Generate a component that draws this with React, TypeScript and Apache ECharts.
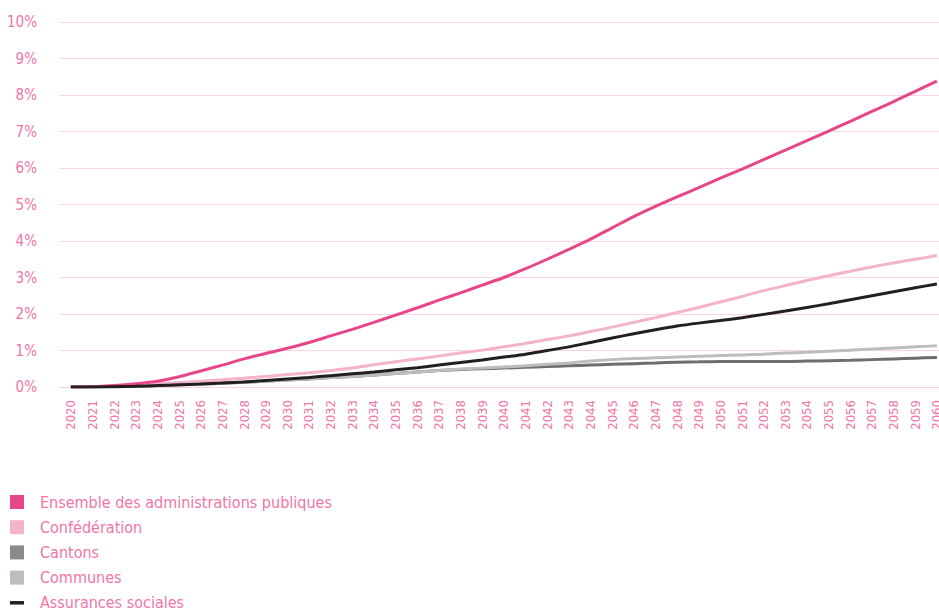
import React, { useEffect, useRef } from "react";
import * as echarts from "echarts";

const years: string[] = [];
for (let y = 2020; y <= 2060; y++) years.push(String(y));

const ensemble = [0, 0.01, 0.04, 0.09, 0.16, 0.28, 0.44, 0.6, 0.77, 0.92, 1.06, 1.22, 1.4, 1.58, 1.77, 1.97, 2.17, 2.38, 2.58, 2.79, 3.0, 3.24, 3.5, 3.77, 4.05, 4.36, 4.67, 4.95, 5.21, 5.46, 5.72, 5.97, 6.23, 6.49, 6.75, 7.01, 7.28, 7.55, 7.82, 8.1, 8.38];
const confederation = [0, 0.01, 0.03, 0.06, 0.09, 0.12, 0.16, 0.2, 0.24, 0.29, 0.34, 0.39, 0.45, 0.52, 0.61, 0.69, 0.77, 0.85, 0.93, 1.01, 1.1, 1.19, 1.3, 1.4, 1.52, 1.64, 1.77, 1.9, 2.04, 2.18, 2.33, 2.48, 2.64, 2.78, 2.92, 3.05, 3.17, 3.29, 3.4, 3.5, 3.6];
const cantons = [0, 0, 0.01, 0.02, 0.04, 0.06, 0.08, 0.1, 0.13, 0.16, 0.19, 0.22, 0.26, 0.29, 0.33, 0.37, 0.41, 0.45, 0.48, 0.5, 0.52, 0.54, 0.56, 0.58, 0.6, 0.62, 0.64, 0.66, 0.68, 0.69, 0.7, 0.7, 0.7, 0.7, 0.71, 0.72, 0.73, 0.75, 0.77, 0.79, 0.81];
const communes = [0, 0, 0.01, 0.02, 0.04, 0.06, 0.08, 0.1, 0.13, 0.16, 0.19, 0.22, 0.26, 0.29, 0.33, 0.37, 0.41, 0.45, 0.49, 0.52, 0.55, 0.58, 0.62, 0.66, 0.71, 0.75, 0.78, 0.8, 0.82, 0.84, 0.86, 0.88, 0.9, 0.93, 0.95, 0.98, 1.01, 1.04, 1.07, 1.1, 1.13];
const assurances = [0, 0, 0.01, 0.02, 0.04, 0.06, 0.08, 0.11, 0.14, 0.18, 0.22, 0.26, 0.31, 0.36, 0.41, 0.47, 0.53, 0.6, 0.67, 0.74, 0.82, 0.9, 1.0, 1.1, 1.22, 1.34, 1.46, 1.57, 1.67, 1.75, 1.82, 1.9, 1.99, 2.08, 2.18, 2.28, 2.39, 2.5, 2.61, 2.72, 2.82];

const names = [
  "Ensemble des administrations publiques",
  "Confédération",
  "Cantons",
  "Communes",
  "Assurances sociales",
];
const lineColors = ["#e8468a", "#f5b3cb", "#6d6e71", "#bcbdc0", "#231f20"];
const legendColors = ["#e8468a", "#f5b3cb", "#8a8b8f", "#bcbdc0", "#231f20"];

const FONT = "'DejaVu Sans Condensed', sans-serif";
const PINK_TEXT = "#f075a8";

export default function App() {
  const ref = useRef<HTMLDivElement>(null);
  useEffect(() => {
    if (!ref.current) return;
    const chart = echarts.init(ref.current, undefined, { renderer: "svg" });
    const mk = (i: number, data: number[], z: number) => ({
      name: names[i],
      type: "line",
      data,
      smooth: 0.3,
      showSymbol: false,
      symbol: "none",
      z,
      lineStyle: { color: lineColors[i], width: 3 },
      itemStyle: { color: legendColors[i] },
    });
    chart.setOption({
      animation: false,
      grid: { left: 60, right: 2.3, top: 22, bottom: 224 },
      legend: {
        orient: "vertical",
        left: 10,
        top: 494,
        height: 300,
        padding: 0,
        itemWidth: 14,
        itemHeight: 14,
        itemGap: 9.2,
        textStyle: { color: PINK_TEXT, fontSize: 16, fontFamily: FONT, padding: [0, 0, 0, 11] },
        data: [
          { name: names[0], icon: "rect", itemStyle: { color: legendColors[0] } },
          { name: names[1], icon: "rect", itemStyle: { color: legendColors[1] } },
          { name: names[2], icon: "rect", itemStyle: { color: legendColors[2] } },
          { name: names[3], icon: "rect", itemStyle: { color: legendColors[3] } },
          { name: names[4], icon: "path://M0,0h12v3h-12z", itemStyle: { color: legendColors[4] } },
        ],
      },
      xAxis: {
        type: "category",
        data: years,
        boundaryGap: true,
        axisLine: { show: true, lineStyle: { color: "#f7cfdf", width: 1 } },
        axisTick: { show: false },
        axisLabel: {
          rotate: 90,
          interval: 0,
          margin: 13,
          color: PINK_TEXT,
          fontSize: 13,
          fontFamily: FONT,
        },
      },
      yAxis: {
        type: "value",
        min: 0,
        max: 10,
        interval: 1,
        axisLine: { show: false },
        axisTick: { show: false },
        splitLine: { lineStyle: { color: "#f9d3e2", width: 1 } },
        axisLabel: {
          formatter: "{value}%",
          color: PINK_TEXT,
          fontSize: 15,
          fontFamily: FONT,
          margin: 23,
        },
      },
      series: [
        mk(2, cantons, 2),
        mk(3, communes, 3),
        mk(1, confederation, 4),
        mk(0, ensemble, 5),
        mk(4, assurances, 6),
      ],
    });
    return () => chart.dispose();
  }, []);
  return (
    <div
      style={{ position: "fixed", left: 0, top: 0, width: 939, height: 611, overflow: "hidden", background: "#fff" }}
    >
      <div ref={ref} style={{ width: 950, height: 611 }} />
    </div>
  );
}
